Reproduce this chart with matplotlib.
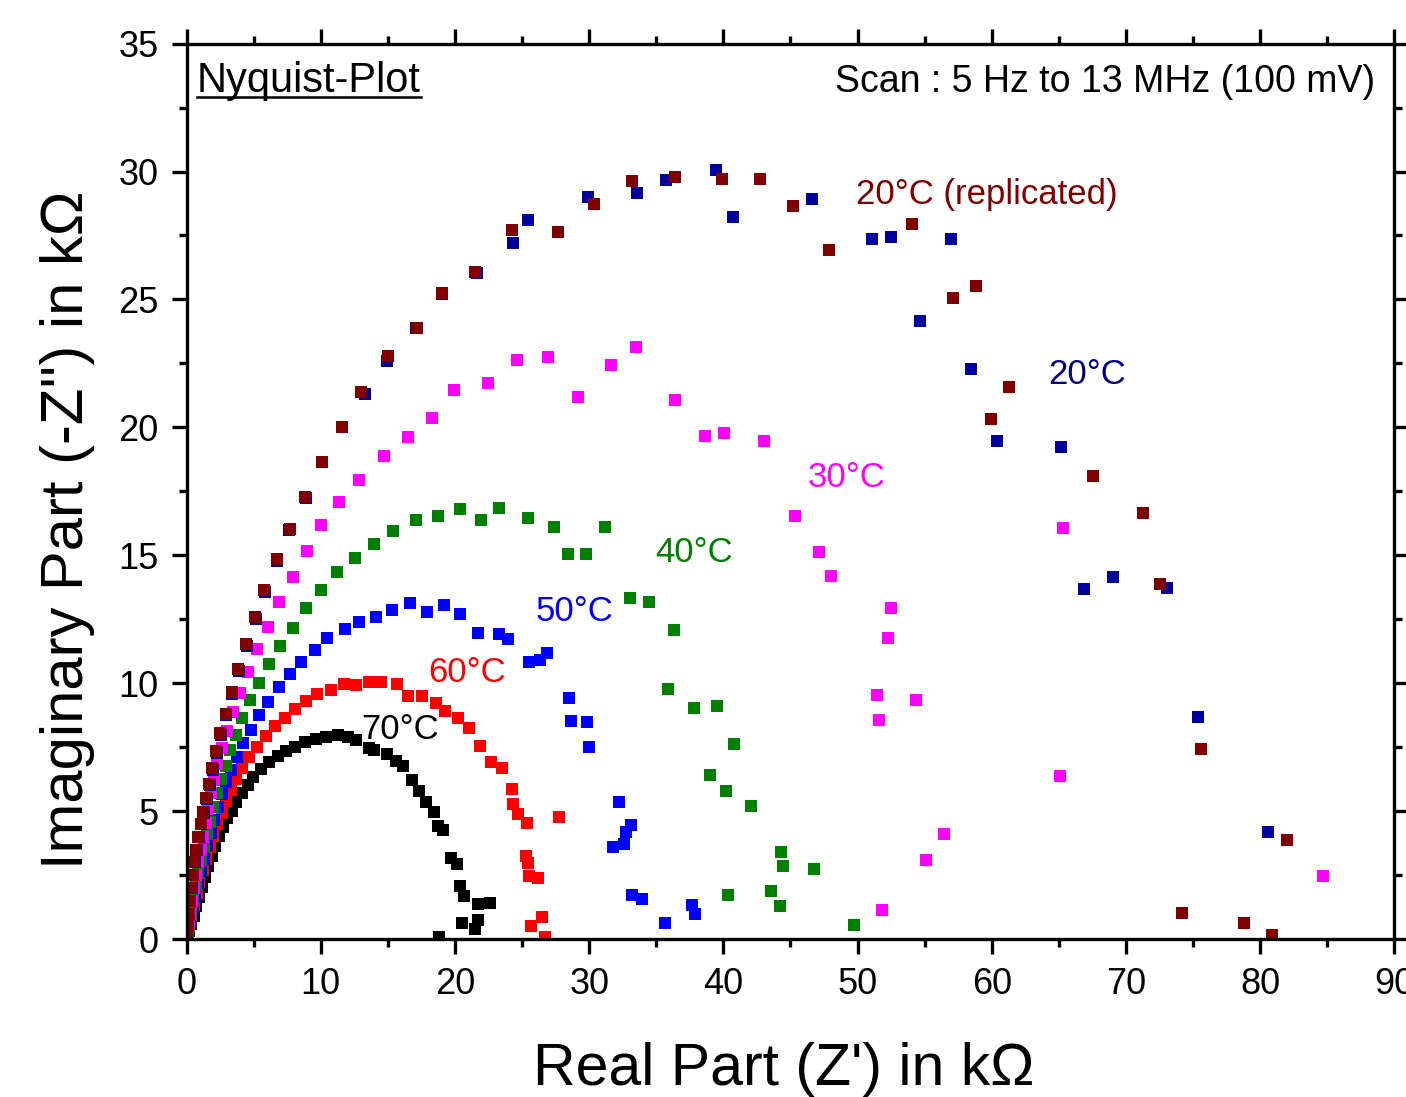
import matplotlib.pyplot as plt
from matplotlib.ticker import MultipleLocator

plt.rcParams['font.family'] = ['Liberation Sans', 'DejaVu Sans']

# Nyquist data, Z' and -Z'' in kOhm
x_20r = [0.03, 0.08, 0.15, 0.24, 0.34, 0.45, 0.58, 0.72, 0.88, 1.05, 1.24, 1.46, 1.66, 1.91, 2.21, 2.51,
         2.92, 3.37, 3.84, 4.44, 5.11, 5.80, 6.71, 7.68, 8.80, 10.09, 11.58, 13.03, 15.02, 17.20, 19.03,
         21.49, 24.22, 27.66, 30.39, 33.21, 36.41, 39.93, 42.73, 45.18, 47.88, 54.05, 57.08, 58.86, 59.93,
         61.32, 67.58, 71.25, 72.51, 75.59, 81.99, 74.20, 78.79, 80.89]
y_20r = [0.2, 0.55, 1.0, 1.5, 2.0, 2.5, 3.0, 3.5, 4.0, 4.5, 4.99, 5.51, 6.07, 6.68, 7.34, 8.04,
         8.82, 9.67, 10.56, 11.54, 12.58, 13.64, 14.84, 16.04, 17.30, 18.65, 20.02, 21.37, 22.80, 23.88, 25.27,
         26.09, 27.70, 27.65, 28.74, 29.64, 29.78, 29.72, 29.70, 28.64, 26.93, 27.95, 25.06, 25.53, 20.34,
         21.58, 18.12, 16.65, 13.90, 7.42, 3.86, 1.01, 0.64, 0.17]

x_20 = [0.06, 0.12, 0.19, 0.28, 0.38, 0.5, 0.63, 0.77, 0.93, 1.1, 1.29, 1.51, 1.71, 1.96, 2.26, 2.56,
        2.97, 3.42, 3.9, 4.5, 5.17, 5.86, 6.77, 7.66, 8.87, 10.09, 13.26, 14.97, 17.12, 19.03, 21.61,
        24.33, 25.43, 29.91, 33.55, 35.69, 39.46, 40.72, 46.57, 51.08, 52.49, 56.93, 54.65, 58.44, 60.37,
        65.18, 66.91, 69.07, 73.06, 75.37, 80.59]
y_20 = [0.2, 0.55, 1.0, 1.5, 2.0, 2.5, 3.0, 3.5, 4.0, 4.5, 4.95, 5.47, 6.02, 6.63, 7.29, 7.99,
        8.76, 9.6, 10.5, 11.47, 12.5, 13.57, 14.77, 16.00, 17.23, 18.65, 21.29, 22.60, 23.88, 25.20, 26.03,
        27.20, 28.12, 29.00, 29.17, 29.68, 30.07, 28.22, 28.92, 27.36, 27.46, 27.35, 24.14, 22.27, 19.47,
        19.25, 13.68, 14.14, 13.72, 8.69, 4.20]

x_30 = [0.06, 0.15, 0.27, 0.4, 0.55, 0.7, 0.86, 1.04, 1.22, 1.42, 1.62, 1.84, 2.06, 2.30, 2.62, 3.03,
        3.49, 3.99, 4.61, 5.26, 6.04, 6.89, 7.96, 8.94, 10.04, 11.35, 12.88, 14.70, 16.51, 18.27, 19.90,
        22.43, 24.59, 26.97, 29.14, 31.60, 33.51, 36.36, 38.64, 40.02, 43.00, 45.35, 47.11, 48.01, 52.47,
        52.29, 51.43, 54.35, 51.58, 56.41, 55.07, 51.82, 65.28, 65.11, 84.66]
y_30 = [0.2, 0.55, 1.0, 1.5, 2.0, 2.5, 3.0, 3.5, 4.0, 4.55, 5.1, 5.70, 6.24, 6.83, 7.48, 8.15,
        8.88, 9.63, 10.46, 11.34, 12.21, 13.16, 14.14, 15.17, 16.19, 17.07, 17.94, 18.88, 19.61, 20.38, 21.46,
        21.74, 22.63, 22.76, 21.20, 22.43, 23.16, 21.06, 19.65, 19.79, 19.47, 16.54, 15.14, 14.21, 12.93,
        11.76, 9.56, 9.33, 8.57, 4.10, 3.09, 1.14, 16.06, 6.37, 2.46]

x_40 = [0.08, 0.2, 0.34, 0.5, 0.68, 0.87, 1.07, 1.28, 1.5, 1.75, 2.0, 2.28, 2.60, 2.92, 3.27, 3.67,
        4.14, 4.74, 5.38, 6.15, 6.94, 7.90, 8.90, 10.01, 11.20, 12.54, 13.98, 15.39, 17.08, 18.70, 20.35,
        21.96, 23.29, 25.41, 27.41, 28.45, 29.76, 31.15, 33.06, 34.48, 36.30, 35.84, 37.84, 39.53, 40.82,
        39.03, 40.20, 42.06, 44.29, 44.46, 46.77, 43.52, 44.22, 40.32, 49.74]
y_40 = [0.25, 0.65, 1.1, 1.6, 2.1, 2.6, 3.1, 3.6, 4.1, 4.6, 5.15, 5.72, 6.27, 6.78, 7.39, 8.00,
        8.63, 9.34, 10.03, 10.76, 11.47, 12.17, 12.94, 13.64, 14.35, 14.90, 15.44, 15.94, 16.38, 16.55, 16.81,
        16.39, 16.87, 16.47, 16.09, 15.06, 15.06, 16.09, 13.32, 13.18, 12.07, 9.79, 9.05, 9.12, 7.64,
        6.41, 5.79, 5.20, 3.41, 2.86, 2.74, 1.88, 1.28, 1.72, 0.57]

x_50 = [0.1, 0.27, 0.45, 0.64, 0.85, 1.07, 1.3, 1.55, 1.8, 2.07, 2.35, 2.65, 2.97, 3.32, 3.74, 4.19,
        4.78, 5.38, 6.10, 6.86, 7.71, 8.55, 9.54, 10.46, 11.80, 12.88, 14.13, 15.29, 16.68, 17.94, 19.16,
        20.37, 21.69, 23.27, 23.96, 25.50, 26.30, 26.86, 28.49, 28.64, 29.81, 29.98, 32.19, 33.11, 32.77,
        32.62, 31.75, 33.21, 33.96, 37.70, 37.90, 35.67]
y_50 = [0.25, 0.7, 1.15, 1.65, 2.15, 2.65, 3.15, 3.65, 4.15, 4.65, 5.15, 5.66, 6.14, 6.63, 7.13, 7.65,
        8.19, 8.75, 9.27, 9.86, 10.35, 10.82, 11.31, 11.78, 12.13, 12.38, 12.58, 12.86, 13.14, 12.80, 13.08,
        12.72, 11.98, 11.93, 11.74, 10.83, 10.92, 11.17, 9.44, 8.53, 8.47, 7.51, 5.35, 4.48, 4.20,
        3.71, 3.60, 1.72, 1.59, 1.35, 1.00, 0.62]

x_60 = [0.07, 0.2, 0.36, 0.54, 0.74, 0.96, 1.2, 1.45, 1.72, 2.0, 2.3, 2.62, 2.95, 3.32, 3.72, 4.16,
        4.68, 5.26, 5.93, 6.57, 7.31, 8.05, 8.90, 9.74, 10.78, 11.70, 12.66, 13.61, 14.52, 15.71, 16.48,
        17.57, 18.59, 19.23, 20.25, 21.06, 21.86, 22.70, 23.49, 24.22, 24.29, 24.71, 25.38, 27.78, 25.33,
        25.45, 25.50, 26.19, 26.47, 25.65, 26.69]
y_60 = [0.15, 0.5, 0.9, 1.35, 1.8, 2.25, 2.7, 3.15, 3.6, 4.05, 4.5, 4.95, 5.40, 5.83, 6.27, 6.70,
        7.11, 7.53, 7.95, 8.34, 8.65, 8.99, 9.32, 9.57, 9.74, 9.96, 9.94, 10.07, 10.04, 9.98, 9.49,
        9.49, 9.25, 8.91, 8.65, 8.24, 7.54, 6.91, 6.70, 5.86, 5.29, 4.90, 4.54, 4.77, 3.25,
        2.99, 2.46, 2.41, 0.87, 0.53, 0.07]

x_70 = [0.08, 0.21, 0.36, 0.53, 0.72, 0.92, 1.13, 1.36, 1.6, 1.86, 2.13, 2.40, 2.70, 3.03, 3.37, 3.70,
        4.11, 4.54, 4.98, 5.55, 6.17, 6.79, 7.41, 8.10, 8.85, 9.64, 10.39, 11.30, 12.02, 12.66, 13.58,
        13.93, 14.92, 15.64, 16.11, 16.80, 17.30, 17.82, 18.42, 18.71, 19.13, 19.68, 20.17, 20.37, 20.67,
        21.71, 22.58, 20.50, 21.71, 21.46, 18.83]
y_70 = [0.1, 0.32, 0.6, 0.92, 1.28, 1.66, 2.05, 2.45, 2.85, 3.25, 3.64, 4.03, 4.38, 4.72, 5.03, 5.38,
        5.72, 6.04, 6.35, 6.64, 6.91, 7.15, 7.34, 7.53, 7.70, 7.83, 7.89, 7.97, 7.91, 7.78, 7.49,
        7.39, 7.25, 6.96, 6.76, 6.23, 5.81, 5.37, 4.96, 4.41, 4.25, 3.17, 2.93, 2.08, 1.69,
        1.37, 1.40, 0.64, 0.75, 0.39, 0.09]

series = [
    (x_70, y_70, 'black', '70°C', 13.0, 8.2),
    (x_60, y_60, '#ff0000', '60°C', 18.0, 10.42),
    (x_50, y_50, '#0000ff', '50°C', 26.0, 12.8),
    (x_40, y_40, '#008000', '40°C', 34.9, 15.1),
    (x_30, y_30, '#ff00ff', '30°C', 46.3, 18.03),
    (x_20, y_20, '#00009c', '20°C', 64.2, 22.07),
    (x_20r, y_20r, '#800000', '20°C (replicated)', 49.9, 29.1),
]

fig = plt.figure(figsize=(14.06, 10.97), dpi=100)
ax = fig.add_axes([0.1327, 0.1438, 0.859, 0.8165])

for xs, ys, col, lab, tx, ty in series:
    ax.plot(xs, ys, 's', color=col, ms=8.5, mew=0, linestyle='none')
    lab_col = '#000080' if lab == '20°C' else col
    ax.text(tx, ty, lab, color=lab_col, fontsize=25, ha='left', va='center')

ax.set_xlim(0, 90)
ax.set_ylim(0, 35)
ax.xaxis.set_major_locator(MultipleLocator(10))
ax.xaxis.set_minor_locator(MultipleLocator(5))
ax.yaxis.set_major_locator(MultipleLocator(5))
ax.yaxis.set_minor_locator(MultipleLocator(2.5))
ax.tick_params(which='both', direction='out', top=True, right=True, width=2.4, labelsize=26)
ax.tick_params(which='major', length=11, pad=9)
ax.tick_params(which='minor', length=6)
for sp in ax.spines.values():
    sp.set_linewidth(2.4)

ax.set_xlabel("Real Part (Z') in kΩ", fontsize=42.5)
ax.set_ylabel("Imaginary Part (-Z'') in kΩ", fontsize=43)
ax.xaxis.set_label_coords(0.494, -0.115)
ax.yaxis.set_label_coords(-0.076, 0.457)

ax.text(0.0087, 0.9457, 'Nyquist-Plot', transform=ax.transAxes, fontsize=30,
        ha='left', va='baseline')
ax.plot([0.0087, 0.194], [0.940, 0.940], transform=ax.transAxes, color='black', lw=1.8,
        clip_on=False)
ax.text(0.9839, 0.9457, 'Scan : 5 Hz to 13 MHz (100 mV)', transform=ax.transAxes,
        fontsize=27, ha='right', va='baseline')

fig.savefig('out.png', dpi=100)
